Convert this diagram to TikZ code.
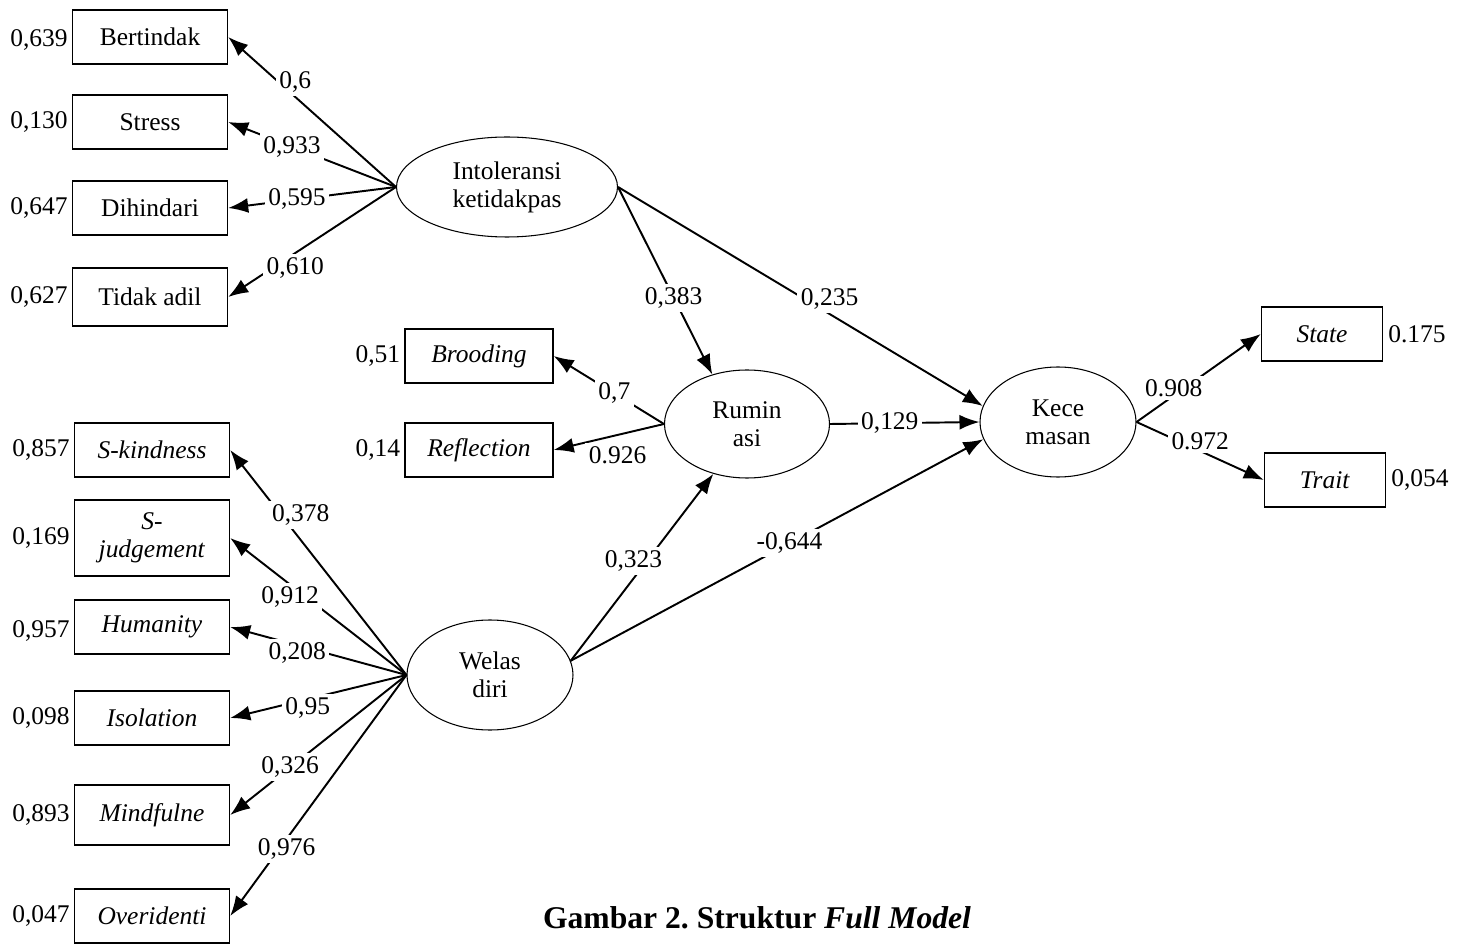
\documentclass[tikz,border=0pt]{standalone}
\usepackage{fontspec}
\setmainfont{Liberation Serif}
\usetikzlibrary{shapes.geometric,arrows.meta,positioning}

\begin{document}
\begin{tikzpicture}[x=0.2mm,y=-0.2mm,
		font=\fontsize{14.5}{16}\selectfont,
		ind/.style={draw,line width=0.8pt,minimum width=31mm,minimum height=10.8mm,inner sep=0pt,align=center},
		lat/.style={draw,ellipse,line width=0.6pt,inner sep=0pt,align=center},
		err/.style={inner sep=1pt},
		arr/.style={-{Latex[length=4mm,width=3mm]},line width=1.1pt},
		lbl/.style={fill=white,inner sep=2pt}]
		
		\useasboundingbox (0,0) rectangle (1468,947);
		
		\node[ind] (bert) at (150,37) {Bertindak};
		\node[ind] (stre) at (150,122) {Stress};
		\node[ind] (dihi) at (150,208) {Dihindari};
		\node[ind,minimum height=11.6mm] (tida) at (150,297) {Tidak adil};
		
		\node[ind,minimum width=29.6mm] (broo) at (479,356) {\textit{Brooding}};
		\node[ind,minimum width=29.6mm] (refl) at (479,450) {\textit{Reflection}};
		
		\node[ind] (skin) at (152,450) {\textit{S-kindness}};
		\node[ind,minimum height=15.2mm] (sjud) at (152,538) {\textit{S-}\\\textit{judgement}};
		\node[ind] (huma) at (152,627) {\textit{Humanity}};
		\node[ind] (isol) at (152,718) {\textit{Isolation}};
		\node[ind,minimum height=12mm] (mind) at (152,815) {\textit{Mindfulne}};
		\node[ind] (over) at (152,916) {\textit{Overidenti}};
		
		\node[ind,minimum width=24.2mm] (stat) at (1322,334) {\textit{State}};
		\node[ind,minimum width=24.2mm] (trai) at (1325,480) {\textit{Trait}};
		
		\node[lat,minimum width=44.2mm,minimum height=20mm] (into) at (507,187) {Intoleransi\\ketidakpas};
		\node[lat,minimum width=33mm,minimum height=21.6mm] (rumi) at (747,424) {Rumin\\asi};
		\node[lat,minimum width=31.2mm,minimum height=22mm] (kece) at (1058,422) {Kece\\masan};
		\node[lat,minimum width=33.2mm,minimum height=22mm] (wela) at (490,675) {Welas\\diri};
		
		\node[err,left=0.4mm of bert,yshift=-0.5mm] (ebert) {0,639};
		\node[err,left=0.4mm of stre] (estre) {0,130};
		\node[err,left=0.4mm of dihi] (edihi) {0,647};
		\node[err,left=0.4mm of tida] (etida) {0,627};
		\node[err,left=0.4mm of broo] (ebroo) {0,51};
		\node[err,left=0.4mm of refl] (erefl) {0,14};
		\node[err,left=0.4mm of skin] (eskin) {0,857};
		\node[err,left=0.4mm of sjud] (esjud) {0,169};
		\node[err,left=0.4mm of huma,yshift=-0.8mm] (ehuma) {0,957};
		\node[err,left=0.4mm of isol] (eisol) {0,098};
		\node[err,left=0.4mm of mind] (emind) {0,893};
		\node[err,left=0.4mm of over] (eover) {0,047};
		\node[err,right=0.6mm of stat] (estat) {0.175};
		\node[err,right=0.6mm of trai] (etrai) {0,054};
		
		\draw[arr] (into.west) -- node[lbl,pos=0.6,yshift=3mm] (lbert) {0,6} (bert.east);
		\draw[arr] (into.west) -- node[lbl,pos=0.62] (lstre) {0,933} (stre.east);
		\draw[arr] (into.west) -- node[lbl,pos=0.59] (ldihi) {0,595} (dihi.east);
		\draw[arr] (into.west) -- node[lbl,pos=0.6,yshift=-3mm] (ltida) {0,610} (tida.east);
		
		\draw[arr] (rumi.west) -- node[lbl,pos=0.45] (lbroo) {0,7} (broo.east);
		\draw[arr] (rumi.west) -- node[lbl,pos=0.42,yshift=-4mm] (lrefl) {0.926} (refl.east);
		
		\draw[arr] (wela.west) -- node[lbl,pos=0.6,yshift=5mm] (lskin) {0,378} (skin.east);
		\draw[arr] (wela.west) -- node[lbl,pos=0.66,yshift=-2.5mm] (lsjud) {0,912} (sjud.east);
		\draw[arr] (wela.west) -- node[lbl,pos=0.62,yshift=-1.5mm] (lhuma) {0,208} (huma.east);
		\draw[arr] (wela.west) -- node[lbl,pos=0.56,yshift=-1.8mm] (lisol) {0,95} (isol.east);
		\draw[arr] (wela.west) -- node[lbl,pos=0.66] (lmind) {0,326} (mind.east);
		\draw[arr] (wela.west) -- node[lbl,pos=0.68,yshift=-2mm] (lover) {0,976} (over.east);
		
		\draw[arr] (into.east) -- node[lbl,pos=0.59] (lir) {0,383} (rumi.125);
		\draw[arr] (into.east) -- node[lbl,pos=0.58,yshift=3mm] (lik) {0,235} (kece.168);
		\draw[arr] (rumi.east) -- node[lbl,pos=0.4] (lrk) {0,129} (kece.west);
		\draw[arr] (wela.10) -- node[lbl,pos=0.44,yshift=3.5mm] (lwr) {0,323} (rumi.236);
		\draw[arr] (wela.10) -- node[lbl,pos=0.53] (lwk) {-0,644} (kece.193);
		
		\draw[arr] (kece.east) -- node[lbl,pos=0.3,yshift=1.5mm] (lstat) {0.908} (stat.west);
		\draw[arr] (kece.east) -- node[lbl,pos=0.5,yshift=2mm] (ltrai) {0.972} (trai.west);
		
		\node[font=\fontsize{18}{20}\selectfont\bfseries] (capt) at (757,918) {Gambar 2.\ Struktur \textit{Full Model}};
		
	\end{tikzpicture}
\end{document}
